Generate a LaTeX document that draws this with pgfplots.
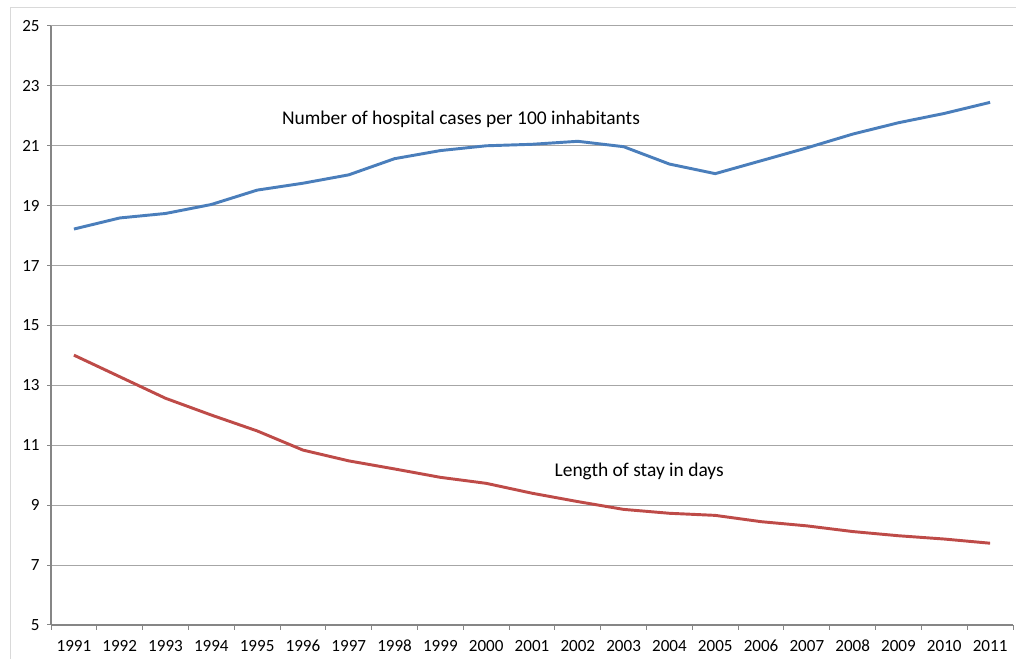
\documentclass[border=0pt]{standalone}
\usepackage{pgfplots}
\pgfplotsset{compat=1.18}
\usepackage{fontspec}
\setmainfont{Carlito}
\definecolor{blueline}{HTML}{4A7EBB}
\definecolor{redline}{HTML}{BE4B48}
\definecolor{axisgray}{HTML}{868686}
\definecolor{gridgray}{HTML}{A6A6A6}
\definecolor{bordergray}{HTML}{D9D9D9}
\begin{document}
\begin{tikzpicture}[x=0.75pt,y=0.75pt]
\path[use as bounding box] (0,0) rectangle (1016,659);
\draw[bordergray, line width=0.75pt] (10,0) -- (10,651) -- (1016,651);
\begin{axis}[
  at={(38.25pt,25.5pt)}, anchor=south west,
  scale only axis, width=721.5pt, height=449.25pt,
  xmin=-0.5, xmax=20.5, ymin=5, ymax=25,
  axis lines*=left,
  axis line style={axisgray, line width=1.5pt},
  xtick={0,...,20},
  xticklabels={1991,1992,1993,1994,1995,1996,1997,1998,1999,2000,2001,2002,2003,2004,2005,2006,2007,2008,2009,2010,2011},
  major x tick style={draw=none},
  minor xtick={-0.5,0.5,...,20.5},
  minor x tick style={axisgray, line width=0.75pt},
  minor tick length=3.5pt,
  ytick={5,7,...,25},
  major y tick style={axisgray, line width=0.75pt},
  major tick length=3pt,
  tick align=outside,
  ymajorgrids,
  grid style={gridgray, line width=0.75pt},
  tick label style={font=\fontsize{12.8}{14}\selectfont, black},
  /pgf/number format/assume math mode=true,
  /pgf/number format/1000 sep={},
  xticklabel style={yshift=-4.5pt, text height=9pt, text depth=1pt},
  yticklabel style={xshift=-2pt},
  clip=false,
]
\addplot[blueline, line width=2.2pt] coordinates {
(0,18.22) (1,18.59) (2,18.74) (3,19.04) (4,19.52) (5,19.75) (6,20.03) (7,20.57) (8,20.84) (9,21.00) (10,21.05) (11,21.15) (12,20.97) (13,20.39) (14,20.07) (15,20.50) (16,20.93) (17,21.39) (18,21.77) (19,22.08) (20,22.45)
};
\addplot[redline, line width=2.2pt] coordinates {
(0,14.01) (1,13.29) (2,12.57) (3,12.01) (4,11.48) (5,10.84) (6,10.48) (7,10.21) (8,9.93) (9,9.73) (10,9.40) (11,9.12) (12,8.86) (13,8.73) (14,8.66) (15,8.45) (16,8.31) (17,8.12) (18,7.98) (19,7.87) (20,7.73)
};
\node[font=\fontsize{14.6}{16}\selectfont] at (axis cs:8.45,21.88) {Number of hospital cases per 100 inhabitants};
\node[font=\fontsize{14.6}{16}\selectfont] at (axis cs:12.34,10.12) {Length of stay in days};
\end{axis}
\end{tikzpicture}
\end{document}
